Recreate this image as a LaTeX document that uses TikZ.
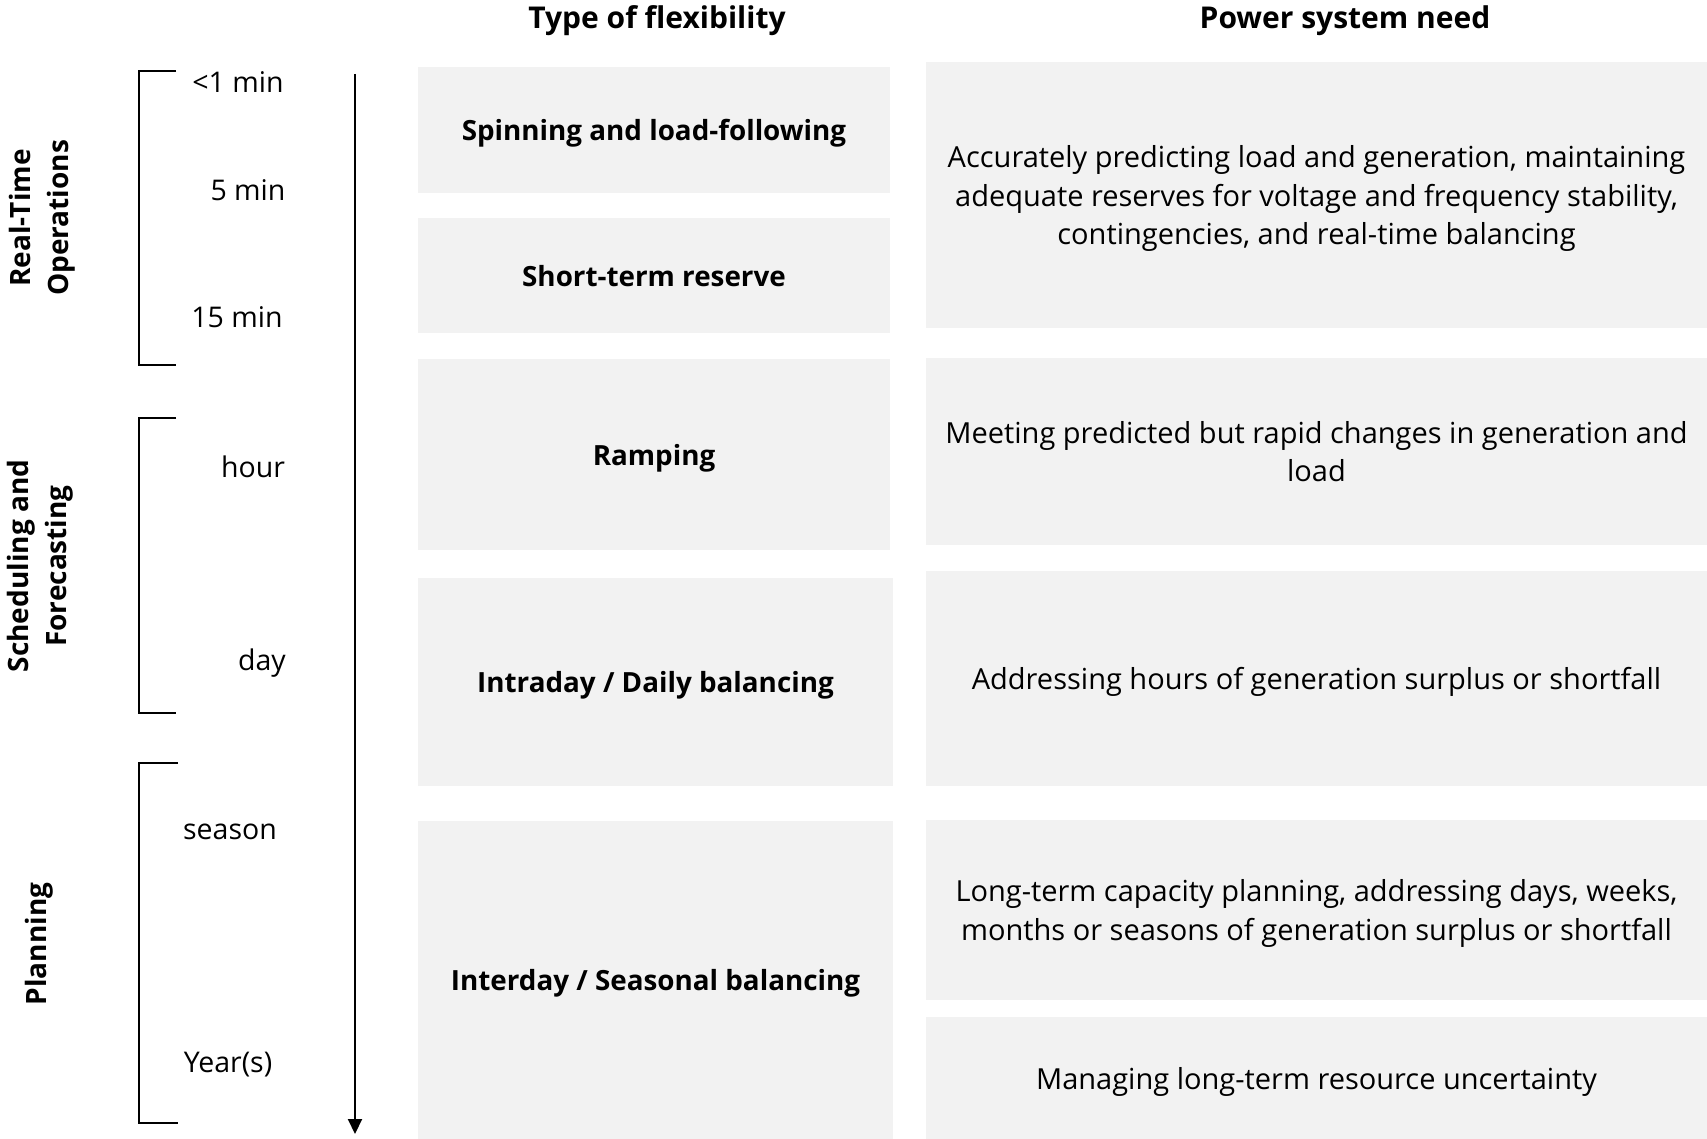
\documentclass[tikz,border=0pt]{standalone}
\usepackage{fontspec}
\setmainfont{Open Sans}
\usetikzlibrary{arrows.meta}
\definecolor{boxgray}{HTML}{F2F2F2}

\begin{document}
\begin{tikzpicture}[x=1pt, y=-1pt,
    flexbox/.style={fill=boxgray, inner sep=0pt, text depth=0pt, font=\fontsize{27.8}{34}\selectfont\bfseries},
    needbox/.style={fill=boxgray, inner sep=0pt, text depth=0pt, align=center, font=\fontsize{29}{38.5}\selectfont},
    timelabel/.style={font=\fontsize{28.5}{32}\selectfont},
    phaselabel/.style={rotate=90, align=center, font=\fontsize{28}{38}\selectfont\bfseries},
    bracket/.style={line width=1.3pt},
    timearrow/.style={line width=2pt, -{Triangle[length=15pt, width=14pt]}}]

    \useasboundingbox (0,0) rectangle (1707,1139);

    % column headings
    \node[font=\fontsize{30}{34}\selectfont\bfseries] (typehead) at (657,21) {Type of flexibility};
    \node[font=\fontsize{30}{34}\selectfont\bfseries] (needhead) at (1345,21) {Power system need};

    % phases
    \node[phaselabel] (realtime) at (42,218) {Real-Time\\Operations};
    \node[phaselabel] (schedule) at (40,566) {Scheduling and\\Forecasting};
    \node[phaselabel] (planning) at (39,944) {Planning};

    \draw[bracket] (176,71) -- (139,71) -- (139,365) -- (176,365);
    \draw[bracket] (176,418) -- (139,418) -- (139,713) -- (176,713);
    \draw[bracket] (178,763) -- (139,763) -- (139,1123) -- (178,1123);

    % time scale
    \node[timelabel] (t1) at (238,82) {<1 min};
    \node[timelabel] (t2) at (248,190) {5 min};
    \node[timelabel] (t3) at (237,317) {15 min};
    \node[timelabel] (t4) at (253,467) {hour};
    \node[timelabel] (t5) at (262,663) {day};
    \node[timelabel] (t6) at (230,832) {season};
    \node[timelabel] (t7) at (228,1065) {Year(s)};

    \coordinate (arrowtop) at (355,74);
    \coordinate (arrowend) at (355,1134);
    \draw[timearrow] (arrowtop) -- (arrowend);

    % type of flexibility
    \node[flexbox, minimum width=472pt, minimum height=126pt] (spin) at (654,130) {Spinning and load-following};
    \node[flexbox, minimum width=472pt, minimum height=115pt] (short) at (654,275.5) {Short-term reserve};
    \node[flexbox, minimum width=472pt, minimum height=191pt] (ramp) at (654,454.5) {Ramping};
    \node[flexbox, minimum width=475pt, minimum height=208pt] (intra) at (655.5,682) {Intraday / Daily balancing};
    \node[flexbox, minimum width=475pt, minimum height=318pt] (inter) at (655.5,980) {Interday / Seasonal balancing};

    % power system need
    \node[needbox, minimum width=781pt, minimum height=266pt] (need1) at (1316.5,195) {Accurately predicting load and generation, maintaining\\adequate reserves for voltage and frequency stability,\\contingencies, and real-time balancing};
    \node[needbox, minimum width=781pt, minimum height=187pt] (need2) at (1316.5,451.5) {Meeting predicted but rapid changes in generation and\\load};
    \node[needbox, minimum width=781pt, minimum height=215pt] (need3) at (1316.5,678.5) {Addressing hours of generation surplus or shortfall};
    \node[needbox, minimum width=781pt, minimum height=180pt] (need4) at (1316.5,910) {Long-term capacity planning, addressing days, weeks,\\months or seasons of generation surplus or shortfall};
    \node[needbox, minimum width=781pt, minimum height=122pt] (need5) at (1316.5,1078) {Managing long-term resource uncertainty};

\end{tikzpicture}
\end{document}
